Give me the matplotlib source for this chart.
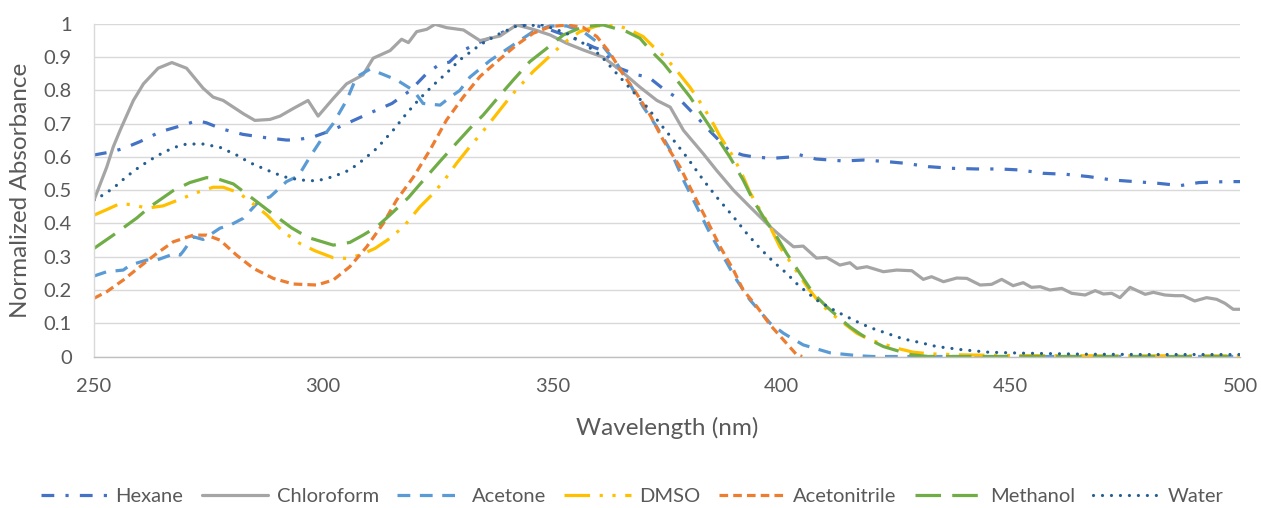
import matplotlib
matplotlib.use("Agg")
import matplotlib.pyplot as plt

# wavelength (nm) / normalized absorbance for each solvent
hexane_wl = [250, 254, 256.5, 260, 264.5, 269, 272.5, 274.5, 278, 282.5, 287.5, 292, 294, 298, 302,
             306, 310, 315, 319, 322.5, 325.5, 327.5, 330, 334, 338, 342, 345, 348, 352, 356, 359,
             361, 364, 368.5, 371, 374, 378, 381.5, 384.5, 388.5, 391.5, 394, 398, 402, 403.5, 407.5,
             413.5, 418, 423, 427, 432, 437, 442.5, 447.5, 452, 457, 462, 467, 472, 477, 482, 487,
             491, 497, 500]
hexane_abs = [0.606, 0.616, 0.626, 0.646, 0.676, 0.694, 0.709, 0.703, 0.684, 0.668, 0.658, 0.651,
              0.651, 0.661, 0.681, 0.706, 0.731, 0.761, 0.80, 0.85, 0.88, 0.885, 0.917, 0.944, 0.967,
              0.995, 1.0, 0.99, 0.97, 0.95, 0.93, 0.92, 0.87, 0.847, 0.84, 0.807, 0.77, 0.72, 0.676,
              0.62, 0.606, 0.60, 0.596, 0.60, 0.608, 0.594, 0.588, 0.591, 0.586, 0.581, 0.571, 0.566,
              0.564, 0.564, 0.561, 0.551, 0.548, 0.541, 0.531, 0.526, 0.521, 0.514, 0.523, 0.526, 0.526]

chloro_wl = [250, 252.8, 254.2, 255.7, 258.6, 260.8, 264, 267, 270.2, 273.8, 276, 278.2, 282.6, 285.1,
             288.4, 290.6, 293.5, 296.7, 298.9, 302.2, 305.1, 308.7, 310.9, 314.6, 317.1, 318.6, 320.4,
             322.6, 324.4, 326.9, 330.6, 334.2, 338.6, 342.2, 345.8, 349.5, 353.1, 356.7, 361.1, 364.7,
             369.1, 372.8, 375.7, 378.6, 382.9, 385.8, 389.5, 393.1, 397.5, 400.4, 402.6, 404.7, 407.6,
             409.8, 412.7, 414.9, 416.4, 418.6, 422.2, 425.1, 428.4, 430.9, 432.7, 435.3, 438.2, 440.4,
             443.3, 445.8, 448, 450.5, 452.7, 454.5, 456.4, 458.5, 461.1, 463.3, 466.2, 468.4, 470.2,
             472, 473.8, 476, 479.3, 481.1, 483.6, 485.8, 487.6, 490.1, 492.7, 494.9, 496.7, 498.5, 500]
chloro_abs = [0.47, 0.57, 0.63, 0.68, 0.77, 0.82, 0.867, 0.884, 0.867, 0.807, 0.78, 0.77, 0.73, 0.71,
              0.713, 0.723, 0.746, 0.77, 0.723, 0.776, 0.82, 0.847, 0.897, 0.92, 0.954, 0.944, 0.977,
              0.984, 0.999, 0.989, 0.982, 0.95, 0.964, 0.997, 0.984, 0.967, 0.942, 0.922, 0.90, 0.862,
              0.81, 0.77, 0.75, 0.68, 0.61, 0.56, 0.50, 0.45, 0.39, 0.355, 0.33, 0.332, 0.296, 0.298,
              0.275, 0.282, 0.265, 0.27, 0.255, 0.26, 0.258, 0.232, 0.24, 0.225, 0.236, 0.235, 0.215,
              0.217, 0.232, 0.213, 0.222, 0.208, 0.21, 0.20, 0.205, 0.19, 0.185, 0.198, 0.188, 0.19,
              0.177, 0.208, 0.187, 0.193, 0.185, 0.183, 0.183, 0.167, 0.177, 0.172, 0.16, 0.142, 0.142]

acetone_wl = [250, 252.8, 256.4, 257.9, 261.5, 263.7, 267.7, 268.8, 269.5, 271.7, 273.8, 277.5, 279.7,
              282.6, 286.2, 288.4, 292, 294.6, 297.1, 300, 302.2, 305.1, 307.3, 310.2, 312.4, 316,
              319.7, 321.8, 325.5, 327.7, 329.8, 332, 336.4, 340.7, 345.8, 349.5, 353.1, 356.7, 361.1,
              364, 367.3, 369.8, 372.8, 375.7, 378.6, 381.5, 384.4, 387.3, 390.2, 393.1, 397.5, 400.4,
              404.7, 410.6, 417, 420, 450, 500]
acetone_abs = [0.242, 0.255, 0.26, 0.275, 0.29, 0.29, 0.31, 0.305, 0.317, 0.36, 0.352, 0.386, 0.395,
               0.416, 0.47, 0.48, 0.526, 0.543, 0.60, 0.661, 0.701, 0.77, 0.841, 0.864, 0.852, 0.832,
               0.80, 0.761, 0.756, 0.78, 0.80, 0.84, 0.89, 0.93, 0.977, 0.994, 0.994, 0.977, 0.932,
               0.882, 0.81, 0.751, 0.69, 0.621, 0.53, 0.45, 0.37, 0.30, 0.23, 0.17, 0.10, 0.07, 0.035,
               0.011, 0.002, 0.0, 0.0, 0.0]

dmso_wl = [250, 252.5, 255.7, 258.6, 261.5, 265.1, 268.8, 272.4, 276, 278.2, 281.5, 284.4, 287.7, 291.3,
           294.9, 298.2, 302.2, 305.1, 308, 311.3, 314.2, 317.5, 321.1, 323.7, 326.2, 329.1, 332, 334.6,
           337.1, 341.1, 345.8, 348.4, 352.4, 356, 359.7, 364, 366.9, 369.8, 372, 374.6, 377.1, 380,
           382.9, 385.1, 386.6, 389.5, 391.6, 393.1, 394.9, 397.5, 399.6, 402.6, 405.8, 408.4, 410.6,
           413.1, 416.4, 419.3, 425.1, 428.7, 432.4, 438.9, 450, 470, 500]
dmso_abs = [0.425, 0.44, 0.46, 0.456, 0.446, 0.453, 0.473, 0.493, 0.509, 0.509, 0.493, 0.463, 0.426,
            0.375, 0.34, 0.318, 0.297, 0.295, 0.305, 0.325, 0.352, 0.39, 0.45, 0.486, 0.526, 0.581,
            0.631, 0.673, 0.716, 0.786, 0.857, 0.89, 0.942, 0.977, 0.994, 0.997, 0.982, 0.962, 0.932,
            0.90, 0.86, 0.81, 0.751, 0.70, 0.661, 0.60, 0.541, 0.493, 0.45, 0.39, 0.33, 0.27, 0.205,
            0.16, 0.132, 0.105, 0.07, 0.05, 0.025, 0.013, 0.008, 0.005, 0.003, 0.002, 0.002]

acn_wl = [250, 252.8, 256.4, 260, 263.7, 267.3, 271.7, 274.6, 277.5, 281.1, 284.8, 289.1, 293.5, 298.6,
          302.2, 305.8, 309.5, 313.1, 316, 319.7, 323.3, 326.9, 330.6, 334.2, 337.9, 342.2, 345.8, 349.5,
          353.1, 356.7, 359.7, 362.6, 365.5, 368.4, 371.3, 374.2, 377.8, 380.7, 383.7, 386.6, 389.5,
          391.6, 394.6, 397.5, 400.4, 403.3, 404.5]
acn_abs = [0.175, 0.195, 0.23, 0.27, 0.31, 0.345, 0.365, 0.365, 0.35, 0.305, 0.265, 0.235, 0.218, 0.215,
           0.23, 0.27, 0.33, 0.40, 0.47, 0.54, 0.621, 0.711, 0.781, 0.842, 0.887, 0.937, 0.972, 0.992,
           0.997, 0.99, 0.962, 0.912, 0.847, 0.79, 0.726, 0.65, 0.571, 0.49, 0.41, 0.33, 0.26, 0.20,
           0.15, 0.095, 0.05, 0.005, 0.0]

meoh_wl = [250, 254.2, 259.3, 262.2, 267.3, 270.9, 274.6, 276.8, 280.4, 285.1, 288.4, 293.1, 296.7,
           302.2, 305.8, 308.7, 311.7, 314.6, 318.6, 321.1, 325.1, 327.7, 332, 334.9, 338.6, 341.5,
           345.1, 348.8, 352.4, 356.7, 361.1, 366.2, 369.1, 371.3, 374.2, 377.1, 380, 382.9, 385.8,
           388.7, 391.6, 393.8, 396, 398.5, 401.1, 404, 406.9, 409.8, 413.5, 415, 417.1, 419, 422.2,
           428, 432, 500]
meoh_abs = [0.325, 0.365, 0.416, 0.45, 0.499, 0.523, 0.538, 0.535, 0.519, 0.47, 0.435, 0.387, 0.358,
            0.335, 0.343, 0.365, 0.39, 0.426, 0.478, 0.518, 0.581, 0.621, 0.686, 0.726, 0.786, 0.832,
            0.887, 0.927, 0.967, 0.992, 0.997, 0.977, 0.957, 0.922, 0.882, 0.832, 0.781, 0.721, 0.661,
            0.60, 0.531, 0.47, 0.42, 0.37, 0.31, 0.25, 0.19, 0.15, 0.105, 0.088, 0.068, 0.052, 0.03,
            0.006, 0.0, 0.0]

water_wl = [250, 251.3, 254.2, 257.1, 260, 263.7, 267.3, 270.2, 273.8, 277.5, 281.1, 284, 287.7, 291.3,
            294.9, 298.6, 302.2, 305.8, 308.7, 311.7, 315.3, 318.2, 321.1, 324, 326.9, 329.8, 334.2,
            337.9, 342.2, 348, 353.1, 356.7, 360.4, 363.3, 366.9, 370.6, 373.5, 376.4, 379.3, 382.9,
            385.8, 389.5, 392.4, 395.3, 398.2, 401.1, 403.6, 407.6, 412, 416.4, 419.3, 422.9, 426.5,
            430.2, 433.8, 439.6, 445.1, 452.7, 466, 480, 500]
water_abs = [0.47, 0.48, 0.506, 0.541, 0.571, 0.603, 0.628, 0.639, 0.639, 0.629, 0.606, 0.583, 0.561,
             0.541, 0.531, 0.528, 0.541, 0.561, 0.591, 0.626, 0.681, 0.731, 0.776, 0.816, 0.852, 0.892,
             0.937, 0.967, 0.994, 0.997, 0.972, 0.942, 0.907, 0.862, 0.807, 0.751, 0.70, 0.651, 0.60,
             0.531, 0.48, 0.42, 0.37, 0.325, 0.285, 0.25, 0.215, 0.17, 0.135, 0.105, 0.087, 0.07, 0.053,
             0.042, 0.03, 0.02, 0.013, 0.01, 0.007, 0.006, 0.006]

series = [
    ("Hexane", hexane_wl, hexane_abs, "#4472C4", (0, (4, 3.5, 1, 3.5)), "butt"),
    ("Chloroform", chloro_wl, chloro_abs, "#A5A5A5", "-", "round"),
    ("Acetone", acetone_wl, acetone_abs, "#5B9BD5", (0, (4, 3)), "butt"),
    ("DMSO", dmso_wl, dmso_abs, "#FFC000", (0, (8, 3, 1, 3, 1, 3)), "butt"),
    ("Acetonitrile", acn_wl, acn_abs, "#ED7D31", (0, (2.7, 1.6)), "butt"),
    ("Methanol", meoh_wl, meoh_abs, "#70AD47", (0, (8, 3.5)), "butt"),
    ("Water", water_wl, water_abs, "#255E91", (0, (0.01, 2.8)), "round"),
]

plt.rcParams["font.family"] = ["Lato", "DejaVu Sans"]
text_col = "#595959"

fig = plt.figure(figsize=(12.61, 5.08), dpi=100)
ax = fig.add_axes([0.0745, 0.2982, 0.9089, 0.6546])

for name, wl, ab, col, ls, cap in series:
    ax.plot(wl, ab, color=col, lw=2.3, linestyle=ls, dash_capstyle=cap,
            solid_capstyle="round", solid_joinstyle="round", label=name)

ax.set_xlim(250, 500)
ax.set_ylim(0, 1)
ax.set_xticks([250, 300, 350, 400, 450, 500])
ax.set_yticks([i / 10 for i in range(11)])
ax.set_yticklabels(["0"] + ["%.1f" % (i / 10) for i in range(1, 10)] + ["1"])
ax.grid(axis="y", color="#D9D9D9", lw=1)
ax.set_axisbelow(True)
ax.tick_params(length=0, labelsize=14.5, colors=text_col)
ax.tick_params(axis="x", pad=15.5)
ax.tick_params(axis="y", pad=16)
for s in ["top", "right"]:
    ax.spines[s].set_visible(False)
ax.spines["left"].set_color("#D9D9D9")
ax.spines["bottom"].set_color("#BFBFBF")
ax.spines["left"].set_linewidth(1)
ax.spines["bottom"].set_linewidth(1)

ax.set_xlabel("Wavelength (nm)", fontsize=17.5, color=text_col, va="center")
ax.set_ylabel("Normalized Absorbance", fontsize=17.5, color=text_col, va="center")
ax.xaxis.set_label_coords(0.5, -0.215)
ax.yaxis.set_label_coords(-0.064, 0.5)

leg = fig.legend(loc="center", bbox_to_anchor=(0.5015, 0.022), ncol=7, frameon=False,
                 fontsize=14.5, handlelength=3.3, handletextpad=0.4, columnspacing=0.92)
for t in leg.get_texts():
    t.set_color(text_col)

fig.savefig("out.png", dpi=100)
